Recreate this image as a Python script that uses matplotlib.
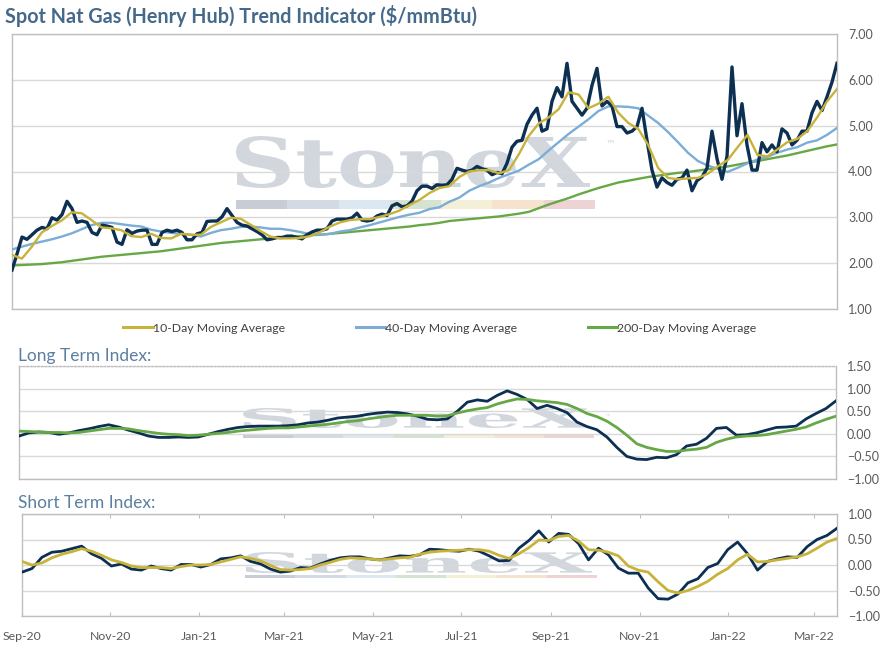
import numpy as np
import pandas as pd
import matplotlib

matplotlib.use('Agg')
import matplotlib.pyplot as plt
import matplotlib.dates as mdates
from matplotlib.ticker import MultipleLocator, StrMethodFormatter
from matplotlib.textpath import TextPath
from matplotlib.font_manager import FontProperties
from matplotlib.patches import PathPatch, Rectangle
from matplotlib.transforms import Affine2D, IdentityTransform
from matplotlib.lines import Line2D

plt.rcParams['font.family'] = ['Lato', 'DejaVu Sans']

# --- data ---
start_date = '2020-09-01'
end_date = '2022-03-17'

spot_price = [
    1.85, 2.20, 2.57, 2.52, 2.62, 2.72, 2.78, 2.75, 2.99, 2.94,
    3.06, 3.35, 3.19, 2.89, 2.92, 2.89, 2.67, 2.62, 2.83, 2.81,
    2.78, 2.46, 2.41, 2.73, 2.65, 2.70, 2.72, 2.72, 2.41, 2.41,
    2.67, 2.72, 2.69, 2.72, 2.67, 2.51, 2.51, 2.64, 2.67, 2.91,
    2.92, 2.92, 3.01, 3.19, 3.04, 2.89, 2.83, 2.81, 2.75, 2.69,
    2.62, 2.51, 2.53, 2.56, 2.56, 2.59, 2.59, 2.56, 2.53, 2.62,
    2.68, 2.72, 2.72, 2.75, 2.92, 2.96, 2.96, 2.96, 2.99, 3.09,
    2.94, 2.92, 2.94, 3.03, 3.07, 3.04, 3.25, 3.30, 3.23, 3.25,
    3.35, 3.58, 3.68, 3.68, 3.63, 3.71, 3.70, 3.71, 3.83, 4.07,
    4.03, 4.00, 4.03, 4.11, 4.06, 4.03, 3.93, 3.98, 3.95, 4.18,
    4.53, 4.66, 4.68, 5.03, 5.23, 5.38, 4.88, 4.93, 5.53, 5.83,
    5.63, 6.36, 5.53, 5.38, 5.23, 5.38, 5.88, 6.25, 5.43, 5.53,
    5.43, 4.98, 4.98, 4.84, 4.88, 4.98, 5.38, 4.68, 4.03, 3.66,
    3.86, 3.76, 3.70, 3.83, 3.86, 4.03, 3.58, 3.80, 3.88, 4.07,
    4.88, 4.28, 3.83, 4.33, 6.28, 4.78, 5.48, 4.58, 4.03, 4.03,
    4.63, 4.43, 4.58, 4.43, 4.93, 4.84, 4.58, 4.68, 4.88, 4.88,
    5.28, 5.53, 5.33, 5.63, 5.95, 6.36,
]

ma_10 = [
    2.18, 2.10, 2.36, 2.67, 2.81, 2.93, 3.11, 3.09, 2.94, 2.78,
    2.76, 2.72, 2.59, 2.57, 2.64, 2.55, 2.54, 2.64, 2.62, 2.62,
    2.79, 2.89, 2.99, 2.97, 2.84, 2.70, 2.58, 2.54, 2.54, 2.55,
    2.59, 2.68, 2.80, 2.89, 2.94, 2.96, 2.96, 3.01, 3.07, 3.15,
    3.27, 3.38, 3.53, 3.64, 3.68, 3.88, 4.00, 4.03, 4.03, 3.96,
    4.03, 4.38, 4.78, 5.05, 5.18, 5.36, 5.73, 5.68, 5.38, 5.48,
    5.63, 5.28, 5.06, 4.93, 4.58, 4.08, 3.86, 3.83, 3.85, 3.86,
    3.95, 4.11, 4.25, 4.53, 4.80, 4.36, 4.33, 4.48, 4.64, 4.71,
    4.88, 5.18, 5.53, 5.80,
]

ma_40 = [
    2.30, 2.36, 2.42, 2.47, 2.52, 2.58, 2.65, 2.74, 2.83, 2.88,
    2.88, 2.85, 2.82, 2.80, 2.73, 2.69, 2.66, 2.64, 2.62, 2.58,
    2.66, 2.72, 2.75, 2.79, 2.80, 2.78, 2.75, 2.75, 2.72, 2.68,
    2.63, 2.62, 2.64, 2.69, 2.72, 2.78, 2.83, 2.89, 2.95, 3.01,
    3.06, 3.10, 3.18, 3.22, 3.34, 3.43, 3.58, 3.68, 3.76, 3.86,
    3.94, 4.02, 4.15, 4.27, 4.46, 4.64, 4.82, 4.98, 5.14, 5.32,
    5.42, 5.42, 5.41, 5.38, 5.22, 5.06, 4.86, 4.64, 4.41, 4.23,
    4.13, 4.06, 3.99, 4.08, 4.18, 4.26, 4.32, 4.41, 4.48, 4.53,
    4.63, 4.68, 4.80, 4.95,
]

ma_200 = [
    1.95, 1.96, 1.97, 1.98, 2.00, 2.02, 2.05, 2.08, 2.11, 2.14,
    2.16, 2.18, 2.20, 2.22, 2.24, 2.26, 2.29, 2.32, 2.35, 2.38,
    2.41, 2.44, 2.46, 2.48, 2.50, 2.52, 2.54, 2.56, 2.58, 2.59,
    2.61, 2.62, 2.64, 2.66, 2.68, 2.70, 2.72, 2.74, 2.76, 2.78,
    2.80, 2.83, 2.85, 2.88, 2.92, 2.94, 2.96, 2.98, 3.00, 3.02,
    3.05, 3.08, 3.12, 3.20, 3.28, 3.35, 3.42, 3.50, 3.57, 3.64,
    3.70, 3.76, 3.80, 3.84, 3.88, 3.91, 3.94, 3.97, 3.99, 4.02,
    4.05, 4.08, 4.11, 4.15, 4.19, 4.23, 4.27, 4.31, 4.35, 4.40,
    4.45, 4.50, 4.55, 4.59,
]

long_index = [
    -0.05, 0.02, 0.04, 0.03, -0.01, 0.02, 0.07, 0.11, 0.16, 0.20,
    0.15, 0.08, 0.02, -0.05, -0.08, -0.08, -0.07, -0.08, -0.07, -0.01,
    0.05, 0.10, 0.14, 0.16, 0.17, 0.17, 0.17, 0.18, 0.20, 0.24,
    0.26, 0.30, 0.35, 0.37, 0.39, 0.43, 0.46, 0.48, 0.47, 0.44,
    0.39, 0.32, 0.31, 0.33, 0.50, 0.70, 0.75, 0.72, 0.85, 0.95,
    0.87, 0.76, 0.56, 0.63, 0.56, 0.47, 0.26, 0.16, 0.09, -0.07,
    -0.30, -0.50, -0.56, -0.57, -0.52, -0.53, -0.46, -0.27, -0.23, -0.10,
    0.12, 0.14, -0.03, -0.02, 0.02, 0.08, 0.14, 0.15, 0.17, 0.33,
    0.45, 0.56, 0.73,
]

long_signal = [
    0.06, 0.05, 0.04, 0.03, 0.03, 0.02, 0.03, 0.06, 0.09, 0.12,
    0.12, 0.11, 0.07, 0.04, 0.01, -0.01, -0.02, -0.04, -0.03, -0.01,
    0.01, 0.03, 0.06, 0.08, 0.10, 0.12, 0.13, 0.13, 0.15, 0.17,
    0.19, 0.21, 0.24, 0.27, 0.29, 0.33, 0.36, 0.39, 0.41, 0.41,
    0.41, 0.41, 0.39, 0.40, 0.46, 0.51, 0.55, 0.58, 0.66, 0.72,
    0.77, 0.76, 0.73, 0.71, 0.69, 0.65, 0.56, 0.45, 0.38, 0.28,
    0.14, -0.03, -0.22, -0.30, -0.35, -0.39, -0.39, -0.36, -0.34, -0.30,
    -0.19, -0.12, -0.07, -0.05, -0.04, -0.02, 0.02, 0.06, 0.10, 0.15,
    0.24, 0.32, 0.39,
]

short_index = [
    -0.14, -0.07, 0.15, 0.25, 0.27, 0.32, 0.37, 0.22, 0.13, -0.02,
    0.02, -0.08, -0.10, -0.02, -0.07, -0.10, 0.01, 0.01, -0.04, 0.01,
    0.12, 0.14, 0.18, 0.07, 0.02, -0.08, -0.14, -0.12, -0.05, -0.06,
    0.02, 0.09, 0.14, 0.16, 0.16, 0.12, 0.10, 0.14, 0.18, 0.17,
    0.20, 0.31, 0.30, 0.28, 0.27, 0.31, 0.27, 0.18, 0.08, 0.09,
    0.33, 0.48, 0.67, 0.45, 0.62, 0.60, 0.42, 0.10, 0.33, 0.20,
    -0.06, -0.16, -0.16, -0.45, -0.66, -0.67, -0.57, -0.35, -0.27, -0.05,
    0.03, 0.30, 0.45, 0.22, -0.10, 0.07, 0.12, 0.16, 0.15, 0.36,
    0.50, 0.58, 0.72,
]

short_signal = [
    0.07, 0.00, 0.04, 0.14, 0.21, 0.26, 0.32, 0.27, 0.19, 0.10,
    0.05, -0.02, -0.05, -0.05, -0.05, -0.07, -0.03, 0.00, 0.00, 0.01,
    0.06, 0.11, 0.16, 0.13, 0.08, -0.01, -0.09, -0.10, -0.09, -0.07,
    0.00, 0.05, 0.11, 0.14, 0.13, 0.12, 0.10, 0.12, 0.14, 0.15,
    0.21, 0.25, 0.27, 0.28, 0.29, 0.30, 0.30, 0.27, 0.19, 0.13,
    0.22, 0.34, 0.49, 0.48, 0.56, 0.58, 0.47, 0.30, 0.29, 0.25,
    0.18, -0.02, -0.10, -0.14, -0.33, -0.50, -0.55, -0.50, -0.42, -0.32,
    -0.18, -0.07, 0.10, 0.21, 0.06, 0.07, 0.10, 0.13, 0.16, 0.22,
    0.33, 0.45, 0.52,
]

legend_labels = ['10-Day Moving Average', '40-Day Moving Average', '200-Day Moving Average']


def dates_for(values):
    return pd.date_range(start_date, end_date, periods=len(values))


# --- style ---
W, H = 887, 646
NAVY = '#0c2f52'
GOLD = '#c8b33a'
BLUE = '#7badd6'
GREEN = '#67a846'
GRID = '#d9d9d9'
FRAME = '#bfbfbf'
TICK = '#595959'
TITLE = '#44698a'
SUB = '#5a7fa0'


def box(left, top, right, bottom):
    return [left / W, 1 - bottom / H, (right - left) / W, (bottom - top) / H]


fig = plt.figure(figsize=(W / 100, H / 100), dpi=100)
ax_top = fig.add_axes(box(12, 34, 837, 309))
ax_lt = fig.add_axes(box(19, 366, 836, 479))
ax_st = fig.add_axes(box(22, 514, 837, 616))

x0 = pd.Timestamp(start_date)
x1 = pd.Timestamp(end_date)

for ax in (ax_top, ax_lt, ax_st):
    ax.set_facecolor('none')
    ax.set_xlim(x0, x1)
    ax.yaxis.tick_right()
    ax.tick_params(axis='y', length=0, pad=8, labelsize=9, labelcolor=TICK)
    ax.tick_params(axis='x', length=0, labelsize=8.8, labelcolor=TICK)
    ax.grid(axis='y', color=GRID, linewidth=1.0)
    ax.set_axisbelow(True)
    for sp in ax.spines.values():
        sp.set_color(FRAME)
        sp.set_linewidth(1.0)
    ax.yaxis.set_major_formatter(StrMethodFormatter('{x:.2f}'))
    ax.xaxis.set_major_locator(mdates.MonthLocator(bymonth=[1, 3, 5, 7, 9, 11]))
    ax.xaxis.set_major_formatter(mdates.DateFormatter('%b-%y'))

# top panel: price and moving averages
ax_top.plot(dates_for(ma_200), ma_200, color=GREEN, lw=1.7, zorder=3)
ax_top.plot(dates_for(ma_40), ma_40, color=BLUE, lw=1.7, zorder=4)
ax_top.plot(dates_for(spot_price), spot_price, color=NAVY, lw=2.4, zorder=5)
ax_top.plot(dates_for(ma_10), ma_10, color=GOLD, lw=1.7, zorder=6)
ax_top.set_ylim(1, 7)
ax_top.yaxis.set_major_locator(MultipleLocator(1))
ax_top.tick_params(axis='x', labelbottom=False)

# long term index
ax_lt.plot(dates_for(long_index), long_index, color=NAVY, lw=2.0, zorder=4)
ax_lt.plot(dates_for(long_signal), long_signal, color=GREEN, lw=2.0, zorder=5)
ax_lt.set_ylim(-1, 1.5)
ax_lt.yaxis.set_major_locator(MultipleLocator(0.5))
ax_lt.tick_params(axis='x', labelbottom=False)
ax_lt.spines['top'].set_linestyle(':')

# short term index
ax_st.plot(dates_for(short_index), short_index, color=NAVY, lw=2.0, zorder=4)
ax_st.plot(dates_for(short_signal), short_signal, color=GOLD, lw=2.0, zorder=5)
ax_st.set_ylim(-1, 1)
ax_st.yaxis.set_major_locator(MultipleLocator(0.5))
ax_st.tick_params(axis='x', pad=11, top=True, direction='in', length=3, color=FRAME)

# titles
fig.text(5 / W, 1 - 16 / H, 'Spot Nat Gas (Henry Hub) Trend Indicator ($/mmBtu)',
         fontsize=14.2, fontweight='bold', color=TITLE, va='center', ha='left')
fig.text(18 / W, 1 - 356 / H, 'Long Term Index:', fontsize=12.5, color=SUB, va='center', ha='left')
fig.text(18 / W, 1 - 503 / H, 'Short Term Index:', fontsize=12.5, color=SUB, va='center', ha='left')

# legend under the top panel
handles = [Line2D([], [], color=c, lw=2.2) for c in (GOLD, BLUE, GREEN)]
fig.legend(handles, legend_labels, loc='center', bbox_to_anchor=(440 / W, 1 - 328 / H),
           ncol=3, frameon=False, fontsize=8.8, handlelength=2.4, handletextpad=0.0,
           columnspacing=5.8, labelcolor='#404040')


# StoneX watermarks
wm_font = FontProperties(family='DejaVu Serif', weight='bold')
bar_colors = ['#c8cdd5', '#d3dae3', '#dce8f1', '#d5e3d3', '#f4f0d8', '#f5e3d0', '#edd3d4']


def watermark(left, right, top, bottom, bar_top, bar_bottom, bar_right, tm_size):
    tp = TextPath((0, 0), 'StoneX', size=100, prop=wm_font)
    ext = tp.get_extents()
    sx = (right - left) / ext.width
    sy = (bottom - top) / ext.height
    tr = Affine2D().translate(-ext.x0, -ext.y0).scale(sx, sy).translate(left, H - bottom)
    fig.add_artist(PathPatch(tr.transform_path(tp), transform=IdentityTransform(),
                             facecolor='#cdd3db', edgecolor='none', alpha=0.9, zorder=-1))
    seg = (bar_right - left) / len(bar_colors)
    for i, c in enumerate(bar_colors):
        fig.add_artist(Rectangle((left + i * seg, H - bar_bottom), seg, bar_bottom - bar_top,
                                 transform=IdentityTransform(), facecolor=c,
                                 edgecolor='none', zorder=-1))
    fig.text((bar_right + 12) / W, 1 - (top + 8) / H, '\u2122', fontsize=tm_size,
             color='#cdd3db', va='center', ha='left', zorder=-1)


watermark(236, 590, 136, 188, 200, 209, 595, 7)
watermark(243, 590, 408, 428, 435, 438, 594, 4)
watermark(245, 592, 552, 573, 575, 578, 597, 4)

fig.savefig('out.png', dpi=100)
plt.close(fig)
